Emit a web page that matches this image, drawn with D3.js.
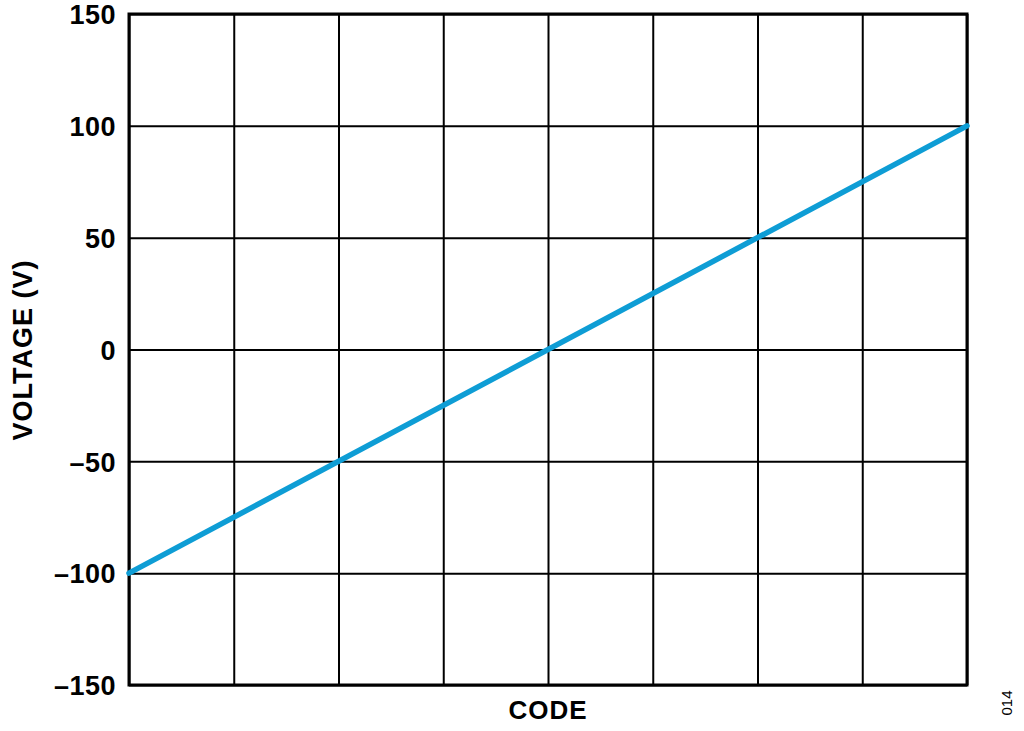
<!DOCTYPE html>
<html><head><meta charset="utf-8">
<script src="https://cdn.jsdelivr.net/npm/d3@7"></script>
<style>body{margin:0;background:#fff;}svg{display:block;font-family:Arial,"Liberation Sans",sans-serif;}</style>
</head><body>
<svg id="c" width="1024" height="731"></svg>
<script>
// Data
const codes = [0, 8];            // code (grid divisions, unlabelled)
const voltages = [-100, 100];    // output voltage (V)
const yTicks = [-150, -100, -50, 0, 50, 100, 150];
const yTickLabels = ["\u2013150", "\u2013100", "\u201350", "0", "50", "100", "150"];
const xGrid = [0, 1, 2, 3, 4, 5, 6, 7, 8];
const xTitle = "CODE";
const yTitle = "VOLTAGE (V)";
const figId = "014";

const svg = d3.select("#c");
const L = 129, R = 967, T = 14, B = 685;
const x = d3.scaleLinear().domain([0, 8]).range([L, R]);
const y = d3.scaleLinear().domain([-150, 150]).range([B, T]);

// grid
const yAxis = d3.axisLeft(y).tickValues(yTicks).tickSize(-(R - L)).tickFormat((d, i) => yTickLabels[i]).tickPadding(13);
const gy = svg.append("g").attr("transform", `translate(${L},0)`).call(yAxis);
gy.select(".domain").remove();
gy.selectAll(".tick line").attr("stroke", "#000").attr("stroke-width", 2);
gy.selectAll(".tick text").attr("font-size", 27).attr("font-weight", "bold").attr("fill", "#000")
  .attr("letter-spacing", 0.5).attr("dy", "0.36em");

const xAxis = d3.axisBottom(x).tickValues(xGrid).tickSize(-(B - T)).tickFormat("");
const gx = svg.append("g").attr("transform", `translate(0,${B})`).call(xAxis);
gx.select(".domain").remove();
gx.selectAll(".tick line").attr("stroke", "#000").attr("stroke-width", 2);

// frame
svg.append("rect").attr("x", L).attr("y", T).attr("width", R - L).attr("height", B - T)
  .attr("fill", "none").attr("stroke", "#000").attr("stroke-width", 3);

// line
const pts = codes.map((c, i) => [c, voltages[i]]);
svg.append("path").datum(pts)
  .attr("d", d3.line().x(d => x(d[0])).y(d => y(d[1])))
  .attr("fill", "none").attr("stroke", "#0e9dd5").attr("stroke-width", 5.5).attr("stroke-linecap", "round");

// titles
svg.append("text").attr("x", (L + R) / 2).attr("y", 719).attr("text-anchor", "middle")
  .attr("font-size", 26).attr("font-weight", "bold").attr("letter-spacing", 1).text(xTitle);
svg.append("text").attr("transform", `translate(32,350) rotate(-90)`).attr("text-anchor", "middle")
  .attr("font-size", 27).attr("font-weight", "bold").attr("letter-spacing", 1).text(yTitle);
svg.append("text").attr("transform", `translate(1012,703) rotate(-90)`).attr("text-anchor", "middle")
  .attr("font-size", 15).text(figId);
</script>
</body></html>
